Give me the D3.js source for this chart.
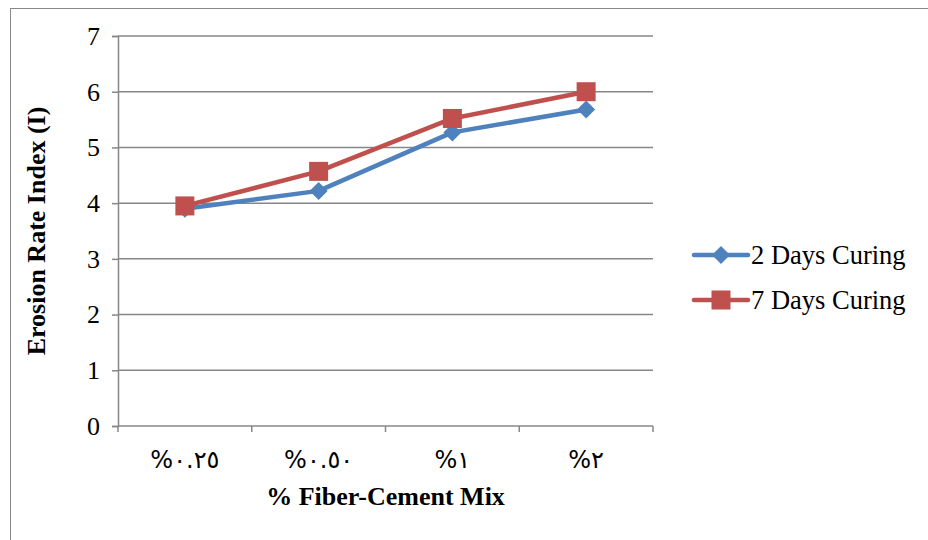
<!DOCTYPE html>
<html>
<head>
<meta charset="utf-8">
<script src="https://cdn.jsdelivr.net/npm/d3@7"></script>
<style>
  html, body { margin: 0; padding: 0; background: #fff; }
  svg { display: block; }
</style>
</head>
<body>
<svg id="chart" width="928" height="540"></svg>
<script>
// Fiber-cement mix ratios (Arabic-Indic numerals)
const categories = ["%٠.٢٥", "%٠.٥٠", "%١", "%٢"];
const seriesNames = ["2 Days Curing", "7 Days Curing"];
const days2 = [3.9, 4.22, 5.27, 5.68];
const days7 = [3.95, 4.57, 5.52, 6.0];
const yTicks = [0, 1, 2, 3, 4, 5, 6, 7];

const colors = ["#4F81BD", "#C0504D"];
const series = [
  { name: seriesNames[0], values: days2, color: colors[0], shape: "diamond" },
  { name: seriesNames[1], values: days7, color: colors[1], shape: "square" }
];

const svg = d3.select("#chart");
const margin = { left: 118, right: 275, top: 36, bottom: 114 };
const W = 928, H = 540;
const serif = "'Liberation Serif', 'Times New Roman', serif";

// Outer chart frame
svg.append("rect")
  .attr("x", 10.5).attr("y", 8.5)
  .attr("width", 940).attr("height", 560)
  .attr("fill", "none").attr("stroke", "#888").attr("stroke-width", 1);

const x = d3.scaleBand()
  .domain(categories)
  .range([margin.left, W - margin.right])
  .paddingInner(0).paddingOuter(0);

const y = d3.scaleLinear()
  .domain([0, 7])
  .range([H - margin.bottom, margin.top]);

const grid = "#878787";

// Horizontal gridlines
svg.append("g")
  .selectAll("line")
  .data(yTicks.filter(d => d > 0))
  .join("line")
  .attr("x1", margin.left).attr("x2", W - margin.right)
  .attr("y1", d => y(d)).attr("y2", d => y(d))
  .attr("stroke", grid).attr("stroke-width", 1.5);

// Y axis
const yAxis = svg.append("g")
  .attr("transform", `translate(${margin.left},0)`)
  .call(d3.axisLeft(y).tickValues(yTicks).tickSize(6).tickPadding(12).tickFormat(d3.format("d")));
yAxis.select(".domain").attr("stroke", grid).attr("stroke-width", 1.5);
yAxis.selectAll(".tick line").attr("stroke", grid).attr("stroke-width", 1.5);
yAxis.selectAll(".tick text")
  .attr("font-family", serif)
  .attr("font-size", 26).attr("fill", "#000");

// X axis with ticks at category boundaries
const xAxisG = svg.append("g")
  .attr("transform", `translate(0,${y(0)})`);
xAxisG.append("line")
  .attr("x1", margin.left).attr("x2", W - margin.right)
  .attr("y1", 0).attr("y2", 0)
  .attr("stroke", grid).attr("stroke-width", 1.5);
const boundaries = categories.map(c => x(c)).concat([x(categories[categories.length - 1]) + x.bandwidth()]);
xAxisG.selectAll("line.tk")
  .data(boundaries)
  .join("line")
  .attr("class", "tk")
  .attr("x1", d => d).attr("x2", d => d)
  .attr("y1", 0).attr("y2", 6)
  .attr("stroke", grid).attr("stroke-width", 1.5);
xAxisG.selectAll("text")
  .data(categories)
  .join("text")
  .attr("x", d => x(d) + x.bandwidth() / 2)
  .attr("y", 42)
  .attr("text-anchor", "middle")
  .attr("direction", "ltr")
  .attr("font-family", "'DejaVu Sans', sans-serif")
  .attr("font-size", 24)
  .attr("fill", "#000")
  .text(d => d);

// Axis titles
svg.append("text")
  .attr("transform", `translate(45,${(y(0) + y(7)) / 2}) rotate(-90)`)
  .attr("text-anchor", "middle")
  .attr("font-family", serif)
  .attr("font-weight", "bold").attr("font-size", 26)
  .attr("fill", "#000")
  .text("Erosion Rate Index (I)");

svg.append("text")
  .attr("x", (margin.left + W - margin.right) / 2)
  .attr("y", 505)
  .attr("text-anchor", "middle")
  .attr("font-family", serif)
  .attr("font-weight", "bold").attr("font-size", 26)
  .attr("fill", "#000")
  .text("% Fiber-Cement Mix");

const line = d3.line()
  .x((d, i) => x(categories[i]) + x.bandwidth() / 2)
  .y(d => y(d));

function marker(g, shape, color) {
  if (shape === "diamond") {
    g.append("path").attr("d", "M0,-9L9,0L0,9L-9,0Z").attr("fill", color);
  } else {
    g.append("rect").attr("x", -9.5).attr("y", -9.5).attr("width", 19).attr("height", 19).attr("fill", color);
  }
}

// Series lines and markers
series.forEach(s => {
  svg.append("path")
    .datum(s.values)
    .attr("d", line)
    .attr("fill", "none")
    .attr("stroke", s.color)
    .attr("stroke-width", 4.5)
    .attr("stroke-linejoin", "round");
  svg.append("g").selectAll("g")
    .data(s.values)
    .join("g")
    .attr("transform", (d, i) => `translate(${x(categories[i]) + x.bandwidth() / 2},${y(d)})`)
    .each(function () { marker(d3.select(this), s.shape, s.color); });
});

// Legend
const legend = svg.append("g");
series.forEach((s, i) => {
  const ly = 255 + i * 45;
  const g = legend.append("g").attr("transform", `translate(0,${ly})`);
  g.append("line")
    .attr("x1", 694).attr("x2", 748)
    .attr("y1", 0).attr("y2", 0)
    .attr("stroke", s.color).attr("stroke-width", 4.5).attr("stroke-linecap", "round");
  const m = g.append("g").attr("transform", "translate(721,0)");
  marker(m, s.shape, s.color);
  g.append("text")
    .attr("x", 751).attr("y", 9)
    .attr("font-family", serif)
    .attr("font-size", 26.5)
    .attr("fill", "#000")
    .text(s.name);
});
</script>
</body>
</html>
